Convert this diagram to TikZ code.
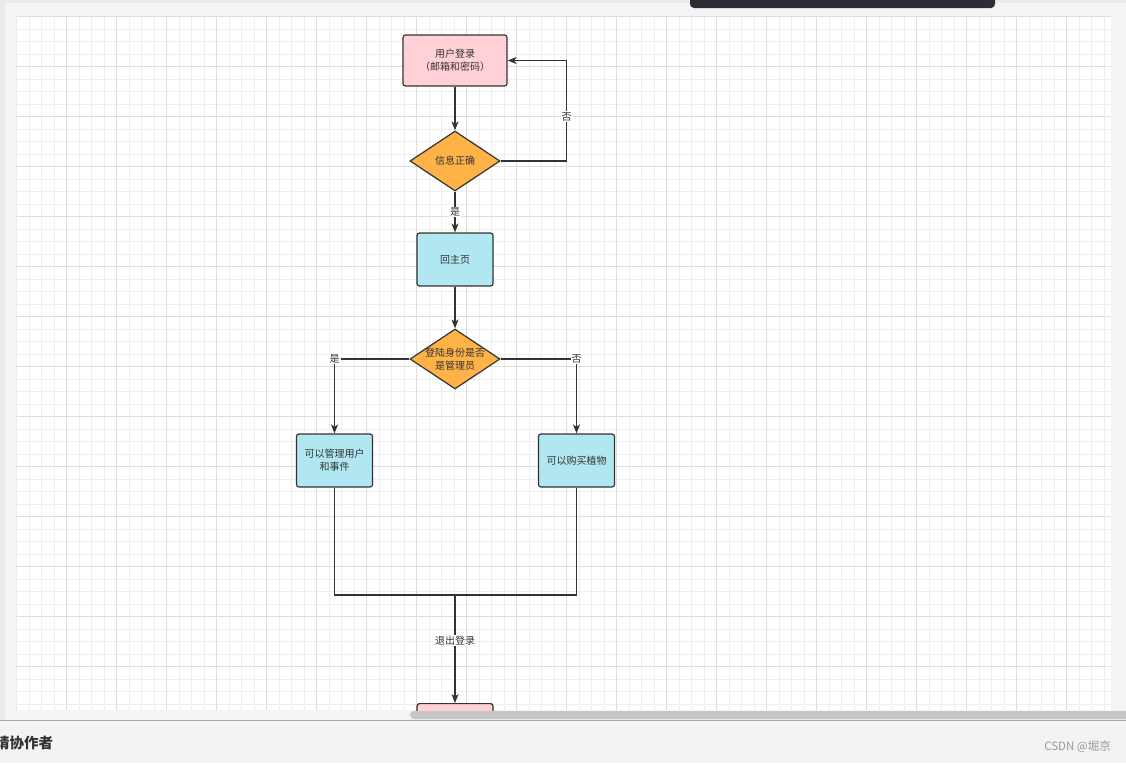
\documentclass[tikz,border=0pt]{standalone}
\usepackage{fontspec}
\setmainfont{Noto Sans CJK SC}
\usetikzlibrary{shapes.geometric,arrows.meta}

\definecolor{lineC}{HTML}{333333}
\definecolor{textC}{HTML}{333333}
\definecolor{pinkC}{HTML}{FFD0D5}
\definecolor{orangeC}{HTML}{FFB347}
\definecolor{cyanC}{HTML}{B1E7F0}
\definecolor{minorC}{HTML}{EEEEEE}
\definecolor{majorC}{HTML}{DEDEDE}
\definecolor{frameC}{HTML}{EAEAEA}
\definecolor{paneC}{HTML}{F4F4F4}
\definecolor{scrollC}{HTML}{C6C6C6}
\definecolor{barC}{HTML}{2B2F33}

\begin{document}
\begin{tikzpicture}[
  x=1pt,y=-1pt,
  font=\fontsize{10}{13}\selectfont,
  box/.style={draw=lineC,line width=1.2pt,rounded corners=2.5pt,minimum width=76pt,minimum height=53pt,align=center,text=textC,inner sep=1pt},
  choice/.style={diamond,draw=lineC,line width=1.2pt,fill=orangeC,minimum width=90pt,minimum height=60pt,inner sep=0pt},
  inside/.style={align=center,text=textC,inner sep=0pt},
  wire/.style={draw=lineC,line width=1.2pt},
  flow/.style={wire,-{Stealth[length=9pt,width=7pt,inset=2.5pt]}},
  lbl/.style={fill=white,inner sep=1pt,text=textC}
]
\useasboundingbox (0,0) rectangle (1126,763);

% editor frame
\fill[frameC] (0,0) rectangle (1126,763);
\fill[paneC] (5,3) rectangle (1126,720);
\fill[white] (16.7,16.7) rectangle (1111,710);
\fill[barC,rounded corners=4pt] (690,-6) rectangle (995,8);

\begin{scope}
\clip (16.7,16.7) rectangle (1111,710);
% grid
\foreach \k in {0,...,87}
  \draw[minorC,line width=1pt] ({16.7+12.5*\k},16.7) -- ({16.7+12.5*\k},710);
\foreach \k in {0,...,55}
  \draw[minorC,line width=1pt] (16.7,{16.7+12.5*\k}) -- (1111,{16.7+12.5*\k});
\foreach \k in {0,...,21}
  \draw[majorC,line width=1pt] ({16.7+50*\k},16.7) -- ({16.7+50*\k},710);
\foreach \k in {0,...,13}
  \draw[majorC,line width=1pt] (16.7,{16.7+50*\k}) -- (1111,{16.7+50*\k});

% flow chart
\node[box,fill=pinkC,minimum width=104pt,minimum height=51pt] (login) at (455,60.5) {用户登录\\（邮箱和密码）};
\node[choice,label={[inside]center:信息正确}] (check) at (455,161) {};
\node[box,fill=cyanC] (home) at (455,259.5) {回主页};
\node[choice,label={[inside]center:登陆身份是否\\是管理员}] (role) at (455,359) {};
\node[box,fill=cyanC] (admin) at (334.5,460.5) {可以管理用户\\和事件};
\node[box,fill=cyanC] (shop) at (576.5,460.5) {可以购买植物};
\coordinate (merge) at (455,595);
\node[box,fill=pinkC,anchor=north] (logout) at (455,703) {};

\draw[flow] (login) -- (check);
\draw[flow] (check.east) -- ++(66,0) |- node[lbl,pos=0.22] {否} (login.east);
\draw[flow] (check) -- node[lbl] {是} (home);
\draw[flow] (home) -- (role);
\draw[flow] (role.west) -| node[lbl,pos=0.5] {是} (admin.north);
\draw[flow] (role.east) -| node[lbl,pos=0.5] {否} (shop.north);
\draw[wire] (admin.south) |- (merge) -| (shop.south);
\draw[flow] (merge) -- node[lbl,pos=0.42] {退出登录} (logout.north);
\end{scope}

% scroll bar and footer
\fill[scrollC,rounded corners=4pt] (410,711) rectangle (1132,719);
\fill[frameC!60!white] (0,720) rectangle (1126,763);
\draw[gray!70,line width=1pt] (0,720) -- (1126,720);
\node[anchor=west,font=\fontsize{14.5}{18}\selectfont\bfseries,text=textC,inner sep=0pt] (invite) at (-5,743) {请协作者};
\node[anchor=east,font=\fontsize{11.5}{13}\selectfont,text=gray!80,inner sep=0pt] (credit) at (1111,747) {CSDN @堀京};
\end{tikzpicture}
\end{document}
